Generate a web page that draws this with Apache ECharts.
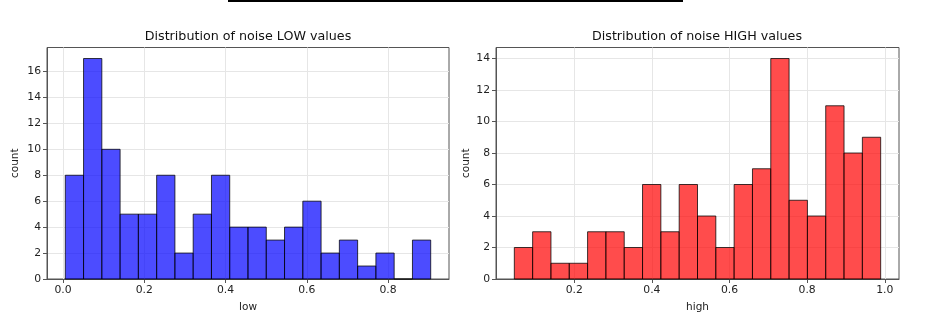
<!DOCTYPE html>
<html>
<head>
<meta charset="utf-8">
<script src="https://cdn.jsdelivr.net/npm/echarts@6/dist/echarts.min.js"></script>
<style>
  html, body { margin: 0; padding: 0; background: #fff; }
  #main { width: 930px; height: 330px; }
</style>
</head>
<body>
<div id="main"></div>
<script>
// histogram counts, 20 bins each
const lowCounts = [8, 17, 10, 5, 5, 8, 2, 5, 8, 4, 4, 3, 4, 6, 2, 3, 1, 2, 0, 3]
const highCounts = [2, 3, 1, 1, 3, 3, 2, 6, 3, 6, 4, 2, 6, 7, 14, 5, 4, 11, 8, 9]

// bin range
const lowRange = [0.0057, 0.905]
const highRange = [0.0456, 0.9895]

const lowTicksX = [0.0, 0.2, 0.4, 0.6, 0.8]
const highTicksX = [0.2, 0.4, 0.6, 0.8, 1.0]
const lowTicksY = [0, 2, 4, 6, 8, 10, 12, 14, 16]
const highTicksY = [0, 2, 4, 6, 8, 10, 12, 14]

const FONT = 'DejaVu Sans'
const SPINE = '#555'

function bins (counts, range) {
  const w = (range[1] - range[0]) / counts.length
  return counts.map((c, i) => [range[0] + i * w, range[0] + (i + 1) * w, c])
}

function renderBar (params, api) {
  const p0 = api.coord([api.value(0), 0])
  const p1 = api.coord([api.value(1), api.value(2)])
  return {
    type: 'rect',
    shape: { x: p0[0], y: p1[1], width: p1[0] - p0[0], height: p0[1] - p1[1] },
    style: api.style()
  }
}

function xAxis (idx, name, ticks, min, max) {
  return {
    type: 'value', gridIndex: idx, min: min, max: max,
    name: name, nameLocation: 'middle', nameGap: 23,
    nameTextStyle: { fontFamily: FONT, fontSize: 10.5, color: '#222' },
    axisLine: { show: true, onZero: false, lineStyle: { color: SPINE, width: 1 } },
    axisTick: { show: true, length: 4, customValues: ticks, lineStyle: { color: SPINE } },
    axisLabel: { customValues: ticks, fontFamily: FONT, fontSize: 10.8, color: '#222', margin: 6,
      formatter: v => v.toFixed(1) },
    splitLine: { show: true, customValues: ticks, lineStyle: { color: '#e6e6e6', width: 1 } }
  }
}

function yAxis (idx, ticks, max, gap) {
  return {
    type: 'value', gridIndex: idx, min: 0, max: max,
    name: 'count', nameLocation: 'middle', nameGap: gap,
    nameTextStyle: { fontFamily: FONT, fontSize: 10.5, color: '#222' },
    axisLine: { show: true, onZero: false, lineStyle: { color: SPINE, width: 1 } },
    axisTick: { show: true, length: 4, customValues: ticks, lineStyle: { color: SPINE } },
    axisLabel: { customValues: ticks, fontFamily: FONT, fontSize: 10.8, color: '#222', margin: 6 },
    splitLine: { show: true, customValues: ticks, lineStyle: { color: '#e6e6e6', width: 1 } }
  }
}

const chart = echarts.init(document.getElementById('main'), null, { renderer: 'canvas' })

chart.setOption({
  backgroundColor: '#fff',
  animation: false,
  title: [
    { text: 'Distribution of noise LOW values', left: 243, top: 25, textAlign: 'center',
      textStyle: { fontFamily: FONT, fontSize: 12.7, fontWeight: 'normal', color: '#111' } },
    { text: 'Distribution of noise HIGH values', left: 692, top: 25, textAlign: 'center',
      textStyle: { fontFamily: FONT, fontSize: 12.7, fontWeight: 'normal', color: '#111' } }
  ],
  graphic: [
    { type: 'rect', shape: { x: 228, y: 0, width: 455, height: 2 }, style: { fill: '#000' } }
  ],
  grid: [
    { left: 47, right: 481, top: 47.5, bottom: 51, show: true, borderColor: SPINE, borderWidth: 1 },
    { left: 496, right: 31, top: 47.5, bottom: 51, show: true, borderColor: SPINE, borderWidth: 1 }
  ],
  xAxis: [
    xAxis(0, 'low', lowTicksX, -0.0393, 0.9500),
    xAxis(1, 'high', highTicksX, -0.0016, 1.0367)
  ],
  yAxis: [
    yAxis(0, lowTicksY, 17.85, 26),
    yAxis(1, highTicksY, 14.7, 24)
  ],
  series: [
    { type: 'custom', xAxisIndex: 0, yAxisIndex: 0, renderItem: renderBar,
      data: bins(lowCounts, lowRange), encode: { x: [0, 1], y: 2 },
      itemStyle: { color: 'rgba(0,0,255,0.7)', borderColor: 'rgba(0,0,0,0.75)', borderWidth: 1 } },
    { type: 'custom', xAxisIndex: 1, yAxisIndex: 1, renderItem: renderBar,
      data: bins(highCounts, highRange), encode: { x: [0, 1], y: 2 },
      itemStyle: { color: 'rgba(255,0,0,0.7)', borderColor: 'rgba(0,0,0,0.75)', borderWidth: 1 } }
  ]
})
</script>
</body>
</html>
